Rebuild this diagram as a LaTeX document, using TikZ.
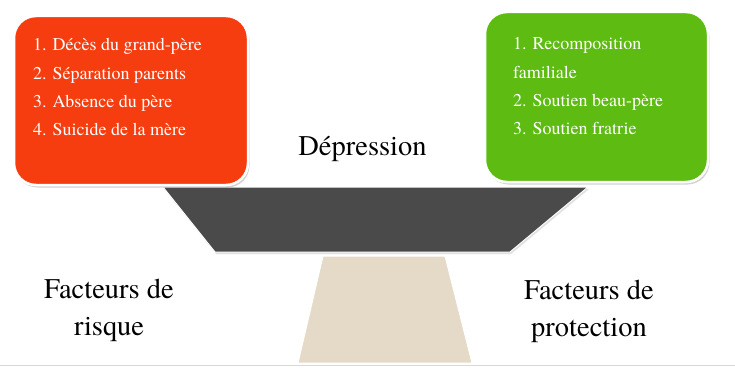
\documentclass[tikz,border=0pt]{standalone}
\usepackage{fontspec}
\setmainfont{texgyretermes}[Extension=.otf, UprightFont=*-regular, BoldFont=*-bold]
\usetikzlibrary{shadows}
\definecolor{riskred}{HTML}{F53D0F}
\definecolor{protgreen}{HTML}{5DBB12}
\definecolor{beamgray}{HTML}{4A4A4A}
\definecolor{basebeige}{HTML}{E5DAC8}
\definecolor{linegray}{HTML}{D8D8D8}
\tikzset{
  panel/.style={draw=white, line width=2.5pt, rounded corners=22pt,
    drop shadow={shadow xshift=1.5pt, shadow yshift=-2.5pt, opacity=0.35, fill=gray}},
  listtext/.style={text=white, font=\fontsize{18}{28.2}\selectfont, align=left, anchor=north west, inner sep=0pt},
  bigtext/.style={text=black, font=\fontsize{28.5}{37}\selectfont, align=center, inner sep=0pt}
}
\begin{document}
\begin{tikzpicture}[x=1pt,y=-1pt]
\useasboundingbox (0,0) rectangle (735,369);
% bottom line
\draw[linegray, line width=1.2pt] (0,365.5) -- (735,365.5);
% base
\path[fill=basebeige, draw=white, line width=1pt] (323,256) -- (445,256) -- (472,363) -- (298,363) -- cycle;
% beam
\path[fill=beamgray, draw=white, line width=1pt,
  drop shadow={shadow xshift=1pt, shadow yshift=-2pt, opacity=0.25, fill=gray}]
  (163,187) -- (588,187) -- (510,252) -- (215,252) -- cycle;
% panels
\path[panel, fill=riskred] (14,16) rectangle (248,185);
\path[panel, fill=protgreen] (485,12) rectangle (708,182);
% texts
\node[listtext] (risk) at (33,38.5) {1. Décès du grand-père\\2. Séparation parents\\3. Absence du père\\4. Suicide de la mère};
\node[listtext] (prot) at (513,37.5) {1. Recomposition\\familiale\\2. Soutien beau-père\\3. Soutien fratrie};
\node[bigtext, anchor=base] (dep) at (362.5,155) {Dépression};
\node[bigtext] (fr) at (109,310) {Facteurs de\\risque};
\node[bigtext] (fp) at (589,311) {Facteurs de\\protection};
\end{tikzpicture}
\end{document}
